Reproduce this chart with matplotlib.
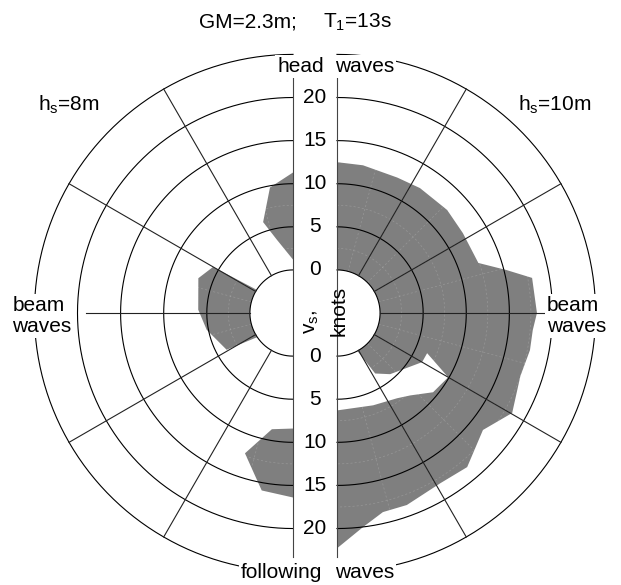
import numpy as np
import matplotlib.pyplot as plt
from matplotlib.patches import Polygon, Rectangle

plt.rcParams['font.family'] = ['Liberation Sans', 'DejaVu Sans']
plt.rcParams['mathtext.fontset'] = 'custom'
plt.rcParams['mathtext.rm'] = 'Liberation Sans'
plt.rcParams['mathtext.it'] = 'Liberation Sans:italic'

# speed rings (knots) and spoke headings (deg off head seas)
ring_speeds = [0, 5, 10, 15, 20, 25]
tick_speeds = [0, 5, 10, 15, 20]
spoke_angles = [30, 60, 120, 150]

# hs = 10 m (right half): outer edge of the dangerous zone
r10_outer_ang = [0, 10, 24, 33.6, 46.9, 57.6, 70.5, 75.8, 79.8, 90, 95, 100.9,
                 109, 119.7, 128.7, 139.8, 148.8, 160, 167, 173, 180]
r10_outer_spd = [12.5, 12.4, 12.2, 12.4, 12.5, 12.3, 12.4, 15.3, 18.0, 18.2, 17.8, 17.8,
                 17.5, 18.4, 16.7, 18.4, 18.1, 18.7, 18.7, 20.0, 22.3]
# hs = 10 m: inner edge (safe notch in quartering seas)
r10_inner_ang = [180, 158.6, 144.8, 138.3, 129.5, 120, 114, 120, 139, 147.7, 151.7]
r10_inner_spd = [6.3, 6.5, 7.1, 7.8, 9.45, 9.9, 6.45, 6.4, 4.4, 3.3, 0]

# hs = 8 m (left half): three separate zones
l8_head_ang = [0, 10.4, 18.2, 12.4, 0]
l8_head_spd = [11.3, 9.8, 6.1, 3.7, 1.2]
l8_beam_ang = [57.4, 60, 69.8, 88, 101, 119, 124]
l8_beam_spd = [0, 5.7, 6.7, 6.0, 5.2, 3.8, 0]
l8_follow_ang = [180, 169.7, 161.1, 170, 180]
l8_follow_spd = [8.4, 8.7, 12.2, 15.9, 16.4]

R0 = 5.0     # radius of the centre hole, in knots
GAP = 2.55   # half width of the speed scale strip
FILL = '#7f7f7f'


def to_xy(ang, spd, side):
    a = np.radians(np.asarray(ang, float))
    r = R0 + np.asarray(spd, float)
    return side * (GAP + r * np.sin(a)), r * np.cos(a)


def zone(ang, spd, side, hole_from=None, hole_to=None):
    ang = list(ang)
    spd = list(spd)
    if hole_from is not None:
        arc = np.linspace(hole_from, hole_to, 40)
        ang += list(arc)
        spd += [0] * len(arc)
    x, y = to_xy(ang, spd, side)
    return Polygon(np.column_stack([x, y]), closed=True, fc=FILL, ec='none', zorder=1)


fig = plt.figure(figsize=(6.21, 5.85), dpi=100)
ax = fig.add_axes([0, 0, 1, 1])
ax.set_xlim(-36.54, 35.50)
ax.set_ylim(-31.55, 36.31)
ax.axis('off')

# shaded zones
ax.add_patch(zone([0] + r10_outer_ang + r10_inner_ang, [0] + r10_outer_spd + r10_inner_spd,
                  1, r10_inner_ang[-1], 0))
ax.add_patch(zone(l8_head_ang, l8_head_spd, -1))
ax.add_patch(zone(l8_beam_ang, l8_beam_spd, -1, l8_beam_ang[-1], l8_beam_ang[0]))
ax.add_patch(zone(l8_follow_ang, l8_follow_spd, -1))

th = np.linspace(0, 180, 181)
for side in (-1, 1):
    # faint computation mesh, only shows over the shading
    for s in [2.5, 7.5, 12.5, 17.5, 22.5]:
        x, y = to_xy(th, np.full_like(th, s), side)
        ax.plot(x, y, color='white', lw=0.5, alpha=0.18, ls=(0, (3, 3)), zorder=2)
    for a in range(15, 180, 15):
        x, y = to_xy([a, a], [0, 25], side)
        ax.plot(x, y, color='white', lw=0.5, alpha=0.18, ls=(0, (3, 3)), zorder=2)
    # speed rings
    for s in ring_speeds:
        x, y = to_xy(th, np.full_like(th, s), side)
        ax.plot(x, y, color='black', lw=0.8, zorder=3)
    # heading spokes
    for a in spoke_angles:
        x, y = to_xy([a, a], [0, 25], side)
        ax.plot(x, y, color='#222222', lw=0.8, zorder=3)
    x, y = to_xy([90, 90], [0, 19], side)
    ax.plot(x, y, color='#222222', lw=0.8, zorder=3)
    ax.plot([side * GAP, side * GAP], [-28.3, 27.3], color='#444444', lw=0.8, zorder=4)

ax.add_patch(Rectangle((-GAP, -29), 2 * GAP, 58, fc='white', ec='none', zorder=2.5))

# speed scale in the strip
for s in tick_speeds:
    ax.text(0, R0 + s, str(s), ha='center', va='center', fontsize=15, zorder=5)
    ax.text(0, -(R0 + s), str(s), ha='center', va='center', fontsize=15, zorder=5)
ax.text(-0.45, -1.0, 'v$_\\mathregular{s}$,', rotation=90, ha='center', va='center',
        fontsize=15, zorder=5)
ax.text(2.75, 0.25, 'knots', rotation=90, ha='center', va='center', fontsize=15, zorder=5)

box = dict(fc='white', ec='none', pad=1.5)
ax.text(1.05, 28.6, 'head', ha='right', va='center', fontsize=15, bbox=box, zorder=6)
ax.text(2.3, 28.6, 'waves', ha='left', va='center', fontsize=15, bbox=box, zorder=6)
ax.text(0.85, -30.05, 'following', ha='right', va='center', fontsize=15, bbox=box, zorder=6)
ax.text(2.3, -30.05, 'waves', ha='left', va='center', fontsize=15, bbox=box, zorder=6)
ax.text(-35.1, -0.35, 'beam\nwaves', ha='left', va='center', fontsize=15,
        linespacing=1.1, bbox=box, zorder=6)
ax.text(26.9, -0.35, 'beam\nwaves', ha='left', va='center', fontsize=15,
        linespacing=1.1, bbox=box, zorder=6)
ax.text(-28.6, 24.1, 'h$_\\mathregular{s}$=8m', ha='center', va='center', fontsize=15, zorder=6)
ax.text(27.8, 24.1, 'h$_\\mathregular{s}$=10m', ha='center', va='center', fontsize=15, zorder=6)

ax.text(-13.5, 33.7, 'GM=2.3m;', ha='left', va='center', fontsize=15)
ax.text(0.95, 33.7, 'T$_\\mathregular{1}$=13s', ha='left', va='center', fontsize=15)

fig.savefig('out.png', dpi=100, facecolor='white')
